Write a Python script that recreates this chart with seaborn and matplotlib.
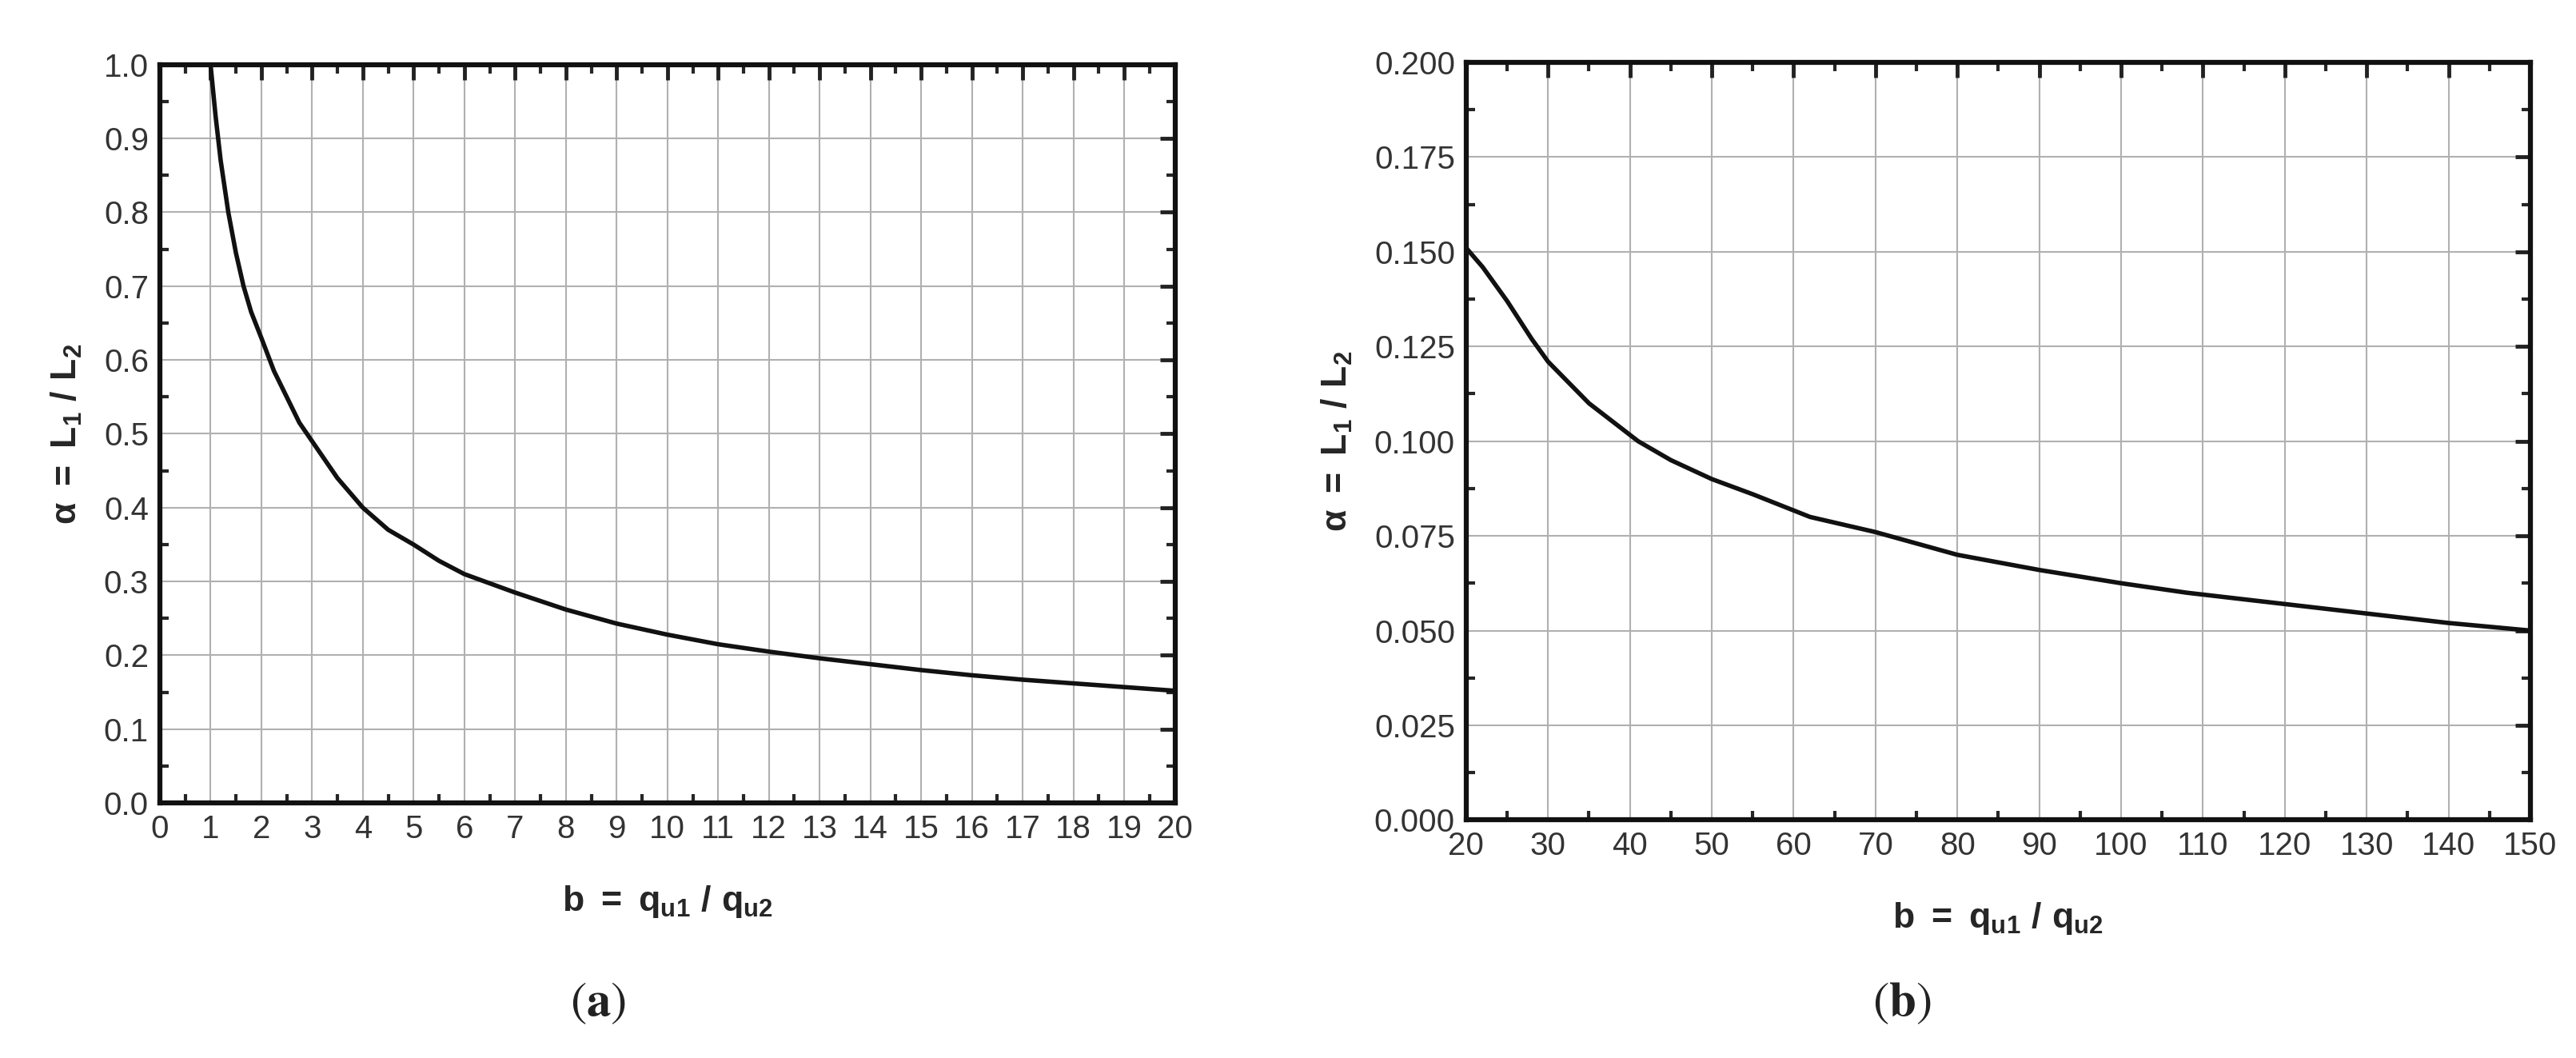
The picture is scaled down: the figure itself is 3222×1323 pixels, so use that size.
import matplotlib
matplotlib.use("Agg")
import matplotlib.pyplot as plt
import seaborn as sns
import numpy as np
from matplotlib.ticker import MultipleLocator

sns.set_theme(style="white")
plt.rcParams['font.family'] = ['Liberation Sans', 'DejaVu Sans']
plt.rcParams['mathtext.fontset'] = 'custom'
plt.rcParams['mathtext.rm'] = 'Liberation Sans'
plt.rcParams['mathtext.bf'] = 'Liberation Sans:bold'
plt.rcParams['mathtext.it'] = 'Liberation Sans:bold'

b_a = [1, 1.1, 1.2, 1.35, 1.5, 1.65, 1.8, 2, 2.25, 2.5, 2.75, 3, 3.5, 4, 4.5, 5, 5.5, 6, 7, 8, 9, 10, 11, 12, 13, 14, 15, 16, 17, 18, 19, 20]
alpha_a = [1.0, 0.93, 0.87, 0.80, 0.745, 0.70, 0.665, 0.63, 0.585, 0.55, 0.515, 0.49, 0.44, 0.40, 0.37, 0.35, 0.328, 0.31, 0.285, 0.262, 0.243, 0.228, 0.215, 0.205, 0.196, 0.188, 0.180, 0.173, 0.167, 0.162, 0.157, 0.152]
b_b = [20, 22, 25, 28, 30, 35, 41, 45, 50, 55, 62, 70, 80, 90, 100, 108, 120, 130, 140, 150]
alpha_b = [0.151, 0.146, 0.137, 0.127, 0.121, 0.110, 0.100, 0.095, 0.090, 0.086, 0.080, 0.076, 0.070, 0.066, 0.0625, 0.060, 0.057, 0.0545, 0.052, 0.050]

fig = plt.figure(figsize=(32.23, 13.23), dpi=100)
axa = fig.add_axes([0.062, 0.241, 0.394, 0.698])
axb = fig.add_axes([0.569, 0.225, 0.413, 0.716])

def style(ax, xmaj, xmin, ymaj, ymin):
    ax.xaxis.set_major_locator(MultipleLocator(xmaj))
    ax.xaxis.set_minor_locator(MultipleLocator(xmin))
    ax.yaxis.set_major_locator(MultipleLocator(ymaj))
    ax.yaxis.set_minor_locator(MultipleLocator(ymin))
    ax.grid(True, which='major', color='#b0b0b0', linewidth=1.5)
    ax.tick_params(which='major', direction='in', length=14, width=3.5, top=True, right=True,
                   labelsize=29, colors='#222222', labelcolor='#333333', pad=10)
    ax.tick_params(which='minor', direction='in', length=8, width=3, top=True, right=True,
                   left=True, bottom=True)
    for s in ax.spines.values():
        s.set_visible(True)
        s.set_linewidth(4.5)
        s.set_color('#111111')
    ax.set_ylabel(r'$\mathbf{\alpha\ =\ L_1\ /\ L_2}$', fontsize=32, labelpad=18)
    ax.set_xlabel(r'$\mathbf{b\ =\ q_{u1}\ /\ q_{u2}}$', fontsize=32, labelpad=35)

sns.lineplot(x=b_a, y=alpha_a, ax=axa, color='#111111', linewidth=4)
axa.set_xlim(0, 20); axa.set_ylim(0, 1.0)
style(axa, 1, 0.5, 0.1, 0.05)
axa.yaxis.set_major_formatter(matplotlib.ticker.FormatStrFormatter('%.1f'))

sns.lineplot(x=b_b, y=alpha_b, ax=axb, color='#111111', linewidth=4)
axb.set_xlim(20, 150); axb.set_ylim(0, 0.2)
style(axb, 10, 5, 0.025, 0.0125)
axb.yaxis.set_major_formatter(matplotlib.ticker.FormatStrFormatter('%.3f'))

fig.text(0.232, 0.04, r'$(\mathbf{a})$', fontsize=44, ha='center', color='#222222',
         math_fontfamily='stix')
fig.text(0.738, 0.04, r'$(\mathbf{b})$', fontsize=44, ha='center', color='#222222',
         math_fontfamily='stix')

fig.savefig('out.png', dpi=100)
